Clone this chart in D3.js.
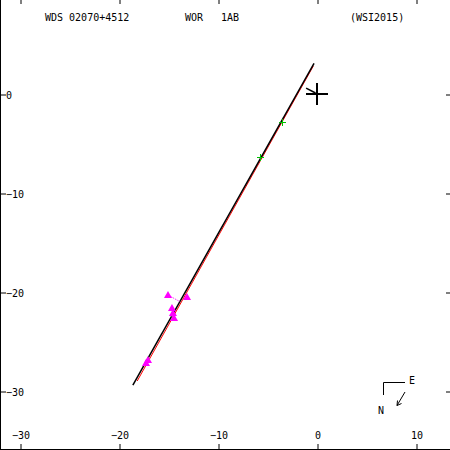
<!DOCTYPE html>
<html>
<head>
<meta charset="utf-8">
<script src="https://cdn.jsdelivr.net/npm/d3@7"></script>
<style>
  body { margin: 0; background: #fff; }
  svg text { font-family: "DejaVu Sans Mono", monospace; font-size: 10px; fill: #000; white-space: pre; }
</style>
</head>
<body>
<div id="chart-area"></div>
<script>
// tick values
var xTicks = [-30, -20, -10, 0, 10];
var yTicks = [0, -10, -20, -30];

// orbit (black) and reference orbit (red), arcsec
var orbitX = [-18.6, -0.3];
var orbitY = [-29.4, 3.1];
var refX = [-18.16, -0.37];
var refY = [-28.99, 2.83];

// measures (magenta triangles)
var obsX = [-15.05, -13.13, -14.65, -14.55, -14.44, -17.07, -17.27];
var obsY = [-20.30, -20.51, -21.62, -22.12, -22.63, -26.87, -27.17];

// other measures (green crosses)
var greenX = [-5.76, -3.54];
var greenY = [-6.36, -2.83];

// small node line near primary
var nodeX = [-1.1, -0.15];
var nodeY = [0.6, 0.1];

var width = 450, height = 450;

var svg = d3.select("#chart-area")
	.append("svg")
		.attr("width", width)
		.attr("height", height);

var x = d3.scaleLinear().domain([-30, 10]).range([20, 416]);
var y = d3.scaleLinear().domain([0, -30]).range([94, 391]);

// frame
svg.append("rect")
	.attr("x", 0.5).attr("y", -1)
	.attr("width", 450).attr("height", 450.5)
	.attr("fill", "none").attr("stroke", "#000");

// axes
var bottom = svg.append("g")
	.attr("transform", "translate(0.5," + 449 + ")")
	.call(d3.axisBottom(x).tickValues(xTicks).tickSize(-5).tickFormat(d3.format("d")));
bottom.selectAll("text").attr("y", -10).attr("dy", 0);

svg.append("g")
	.attr("transform", "translate(0.5,0)")
	.call(d3.axisTop(x).tickValues(xTicks).tickSize(-4).tickFormat(""));

var left = svg.append("g")
	.attr("transform", "translate(1,0.5)")
	.call(d3.axisLeft(y).tickValues(yTicks).tickSize(-5).tickFormat(d3.format("d")));
left.selectAll("text").attr("x", 5).attr("dy", "0.35em").attr("text-anchor", "start");

svg.append("g")
	.attr("transform", "translate(450,0.5)")
	.call(d3.axisRight(y).tickValues(yTicks).tickSize(-4).tickFormat(""));

svg.selectAll(".domain").remove();
svg.selectAll(".tick line").attr("stroke", "#000");
svg.selectAll(".tick text").style("font-family", "DejaVu Sans Mono").style("font-size", "10px").attr("fill", "#000");

// titles
svg.append("text").attr("x", 45).attr("y", 21).text("WDS 02070+4512");
svg.append("text").attr("x", 185).attr("y", 21).text("WOR");
svg.append("text").attr("x", 221).attr("y", 21).text("1AB");
svg.append("text").attr("x", 350).attr("y", 21).text("(WSI2015)");

var line = d3.line().x(function(d) { return x(d[0]); }).y(function(d) { return y(d[1]); });

// reference orbit
svg.append("path")
	.attr("d", line(d3.zip(refX, refY)))
	.attr("fill", "none").attr("stroke", "#ff0000").attr("stroke-width", 1);

// orbit
svg.append("path")
	.attr("d", line(d3.zip(orbitX, orbitY)))
	.attr("fill", "none").attr("stroke", "#000").attr("stroke-width", 1.5);

// O-C lines for measures
var ax = orbitX[0], ay = orbitY[0], bx = orbitX[1], by = orbitY[1];
function proj(px, py) {
	var dx = bx - ax, dy = by - ay;
	var t = ((px - ax) * dx + (py - ay) * dy) / (dx * dx + dy * dy);
	return [ax + t * dx, ay + t * dy];
}
var obs = d3.zip(obsX, obsY);
svg.selectAll(".oc").data(obs).enter()
	.append("line")
		.attr("class", "oc")
		.attr("x1", function(d) { return x(d[0]); })
		.attr("y1", function(d) { return y(d[1]); })
		.attr("x2", function(d) { return x(proj(d[0], d[1])[0]); })
		.attr("y2", function(d) { return y(proj(d[0], d[1])[1]); })
		.attr("stroke", "#ff00ff").attr("stroke-dasharray", "1,1");

svg.selectAll(".obs").data(obs).enter()
	.append("path")
		.attr("class", "obs")
		.attr("transform", function(d) { return "translate(" + x(d[0]) + "," + y(d[1]) + ")"; })
		.attr("d", "M0,-4L4,3L-4,3Z")
		.attr("fill", "#ff00ff");

// green crosses
svg.selectAll(".grn").data(d3.zip(greenX, greenY)).enter()
	.append("path")
		.attr("class", "grn")
		.attr("transform", function(d) { return "translate(" + Math.round(x(d[0])) + "," + Math.round(y(d[1])) + ")"; })
		.attr("d", "M-3,0.5H4M0.5,-3V4")
		.attr("shape-rendering", "crispEdges")
		.attr("stroke", "#00c000").attr("fill", "none");

// node line
svg.append("path")
	.attr("d", line(d3.zip(nodeX, nodeY)))
	.attr("stroke", "#000").attr("stroke-width", 1.5);

// primary
svg.append("path")
	.attr("transform", "translate(" + x(0) + "," + y(0) + ")")
	.attr("d", "M-11,0H11M0,-11V11")
	.attr("stroke", "#000").attr("stroke-width", 2);

// compass
var comp = svg.append("g").attr("fill", "none").attr("stroke", "#000");
comp.append("path").attr("d", "M383.5,395V382.5H405");
comp.append("path").attr("d", "M405,392L397,405.5M397,405.5L397.5,400.5M397,405.5L401.5,403.5");
svg.append("text").attr("x", 409).attr("y", 384).text("E");
svg.append("text").attr("x", 378).attr("y", 414).text("N");
</script>
</body>
</html>
